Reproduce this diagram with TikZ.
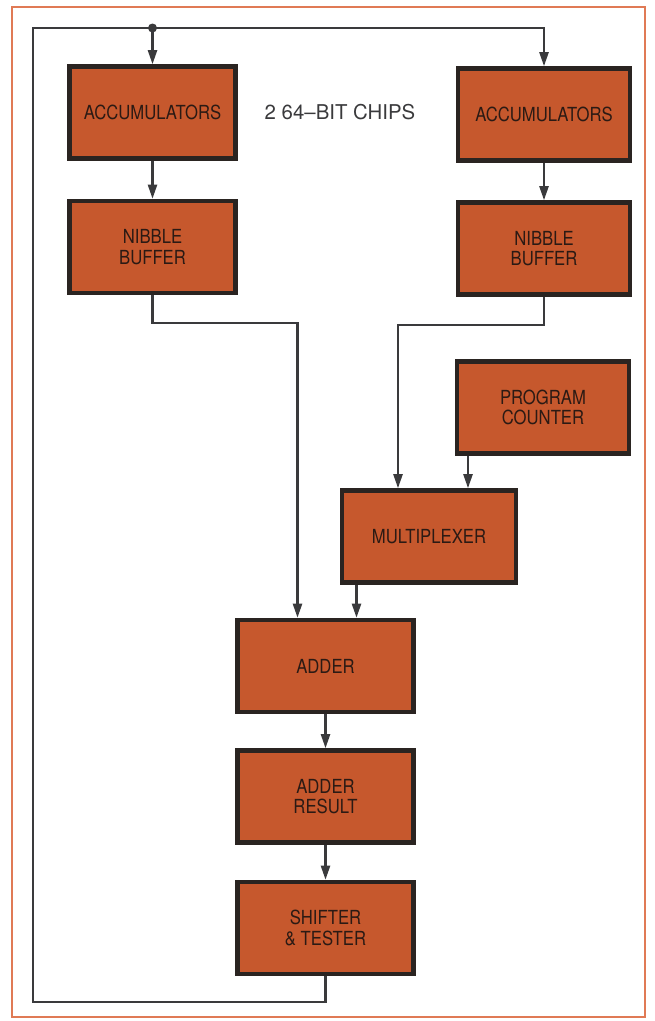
\documentclass[tikz,border=0pt]{standalone}
\usepackage{fontspec}
\setmainfont{TeX Gyre Heros}[FakeStretch=0.86]
\newfontfamily\labelfont{TeX Gyre Heros}[Ligatures=TeX]
\usetikzlibrary{arrows.meta, positioning, calc}
\definecolor{chipfill}{HTML}{C6582D}
\definecolor{chipborder}{HTML}{2A2421}
\definecolor{chiptext}{HTML}{2B1A14}
\definecolor{wire}{HTML}{3A3A3C}
\definecolor{frameorange}{HTML}{E07A55}

\begin{document}
\begin{tikzpicture}[
    x=0.025cm, y=-0.025cm,
    chip/.style={
        rectangle, draw=chipborder, fill=chipfill,
        line width=3.3pt, minimum width=4.15cm,
        minimum height=2.3cm, font=\fontsize{13.8}{14.5}\selectfont,
        text=chiptext, align=center, inner sep=2pt
    },
    wide/.style={minimum width=4.3cm},
    arr/.style={-{Triangle[length=10pt, width=6.5pt]}, line width=1.5pt, wire}
]
\useasboundingbox (0,0) rectangle (654,1021);
\draw[frameorange, line width=1.2pt] (12,7) rectangle (645,1017);

% --- Accumulator chips ---
\node[chip] (accL) at (152.5,112.5) {ACCUMULATORS};
\node[chip, wide] (accR) at (544,114.5) {ACCUMULATORS};
\node[font=\labelfont\fontsize{14.5}{15}\selectfont, text=wire] (chips)
      at (340,112) {2 64--BIT CHIPS};

% --- Nibble buffers ---
\node[chip] (nibL) at (152.5,247) {NIBBLE\\BUFFER};
\node[chip, wide] (nibR) at (544,248.5) {NIBBLE\\BUFFER};

% --- Program counter / multiplexer ---
\node[chip, wide] (pc) at (543,407.5) {PROGRAM\\COUNTER};
\node[chip, minimum width=4.35cm] (mux) at (429,536.5) {MULTIPLEXER};

% --- Arithmetic chain ---
\node[chip, minimum width=4.4cm] (adder) at (325.5,666) {ADDER};
\node[chip, minimum width=4.4cm] (result) at (325.5,796.5) {ADDER\\RESULT};
\node[chip, minimum width=4.4cm] (shift) at (325.5,928) {SHIFTER\\\&\ TESTER};

% --- Bend points ---
\coordinate (top) at (0,28);
\coordinate (tap) at (accL.north |- top);
\coordinate (loopL) at (33,1002);
\coordinate (muxin) at ($(mux.north)+(39,0)$);
\coordinate (addin) at ($(adder.north)+(31,0)$);

% --- Arrows ---
\draw[arr] (accL) -- (nibL);
\draw[arr] (accR) -- (nibR);
\draw[arr] (nibL.south) -- ++(0,28) -| ($(adder.north)+(-28,0)$);
\draw[arr] (nibR.south) -- ++(0,28) -| ($(mux.north)+(-31,0)$);
\draw[arr] (pc.south -| muxin) -- (muxin);
\draw[arr] (mux.south -| addin) -- (addin);
\draw[arr] (adder) -- (result);
\draw[arr] (result) -- (shift);
\draw[arr] (shift.south) |- (loopL) |- (accR.north |- top) -- (accR.north);
\draw[arr] (tap) -- (accL.north);
\fill[wire] (tap) circle (4.5);
\end{tikzpicture}
\end{document}
